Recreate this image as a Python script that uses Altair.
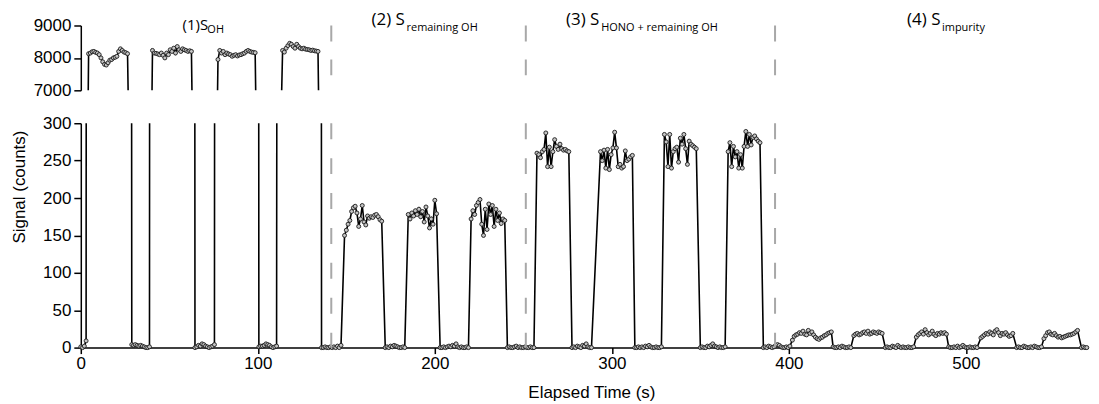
import altair as alt
import pandas as pd

# ---------------- data ----------------
SAMPLE_STEP = 1.0  # seconds between successive samples inside a segment

SEGMENT_STARTS = [
    0.0, 4.4, 28.8, 40.5, 64.5, 77.5, 100.6, 114.0, 136.0,
    149.0, 172.0, 185.0, 203.0, 220.5, 241.0,
    257.7, 277.5, 293.6, 313.0, 329.7, 350.0, 365.7, 385.6,
    402.0, 425.0, 436.7, 454.5, 472.0, 490.3, 508.5, 528.7, 544.1, 565.3,
]

SEGMENT_VALUES = [
    [1, 0, 2, 9],
    [8130, 8150, 8190, 8200, 8170, 8150, 8100, 8000, 7880, 7800, 7780, 7850,
     7930, 7950, 8000, 8020, 8050, 8200, 8280, 8230, 8180, 8160, 8130],
    [4, 3, 4, 3, 2, 3, 2, 1, 0, 0, 1],
    [8230, 8150, 8140, 8120, 8100, 8150, 8080, 8000, 8150, 8100, 8250, 8200,
     8300, 8150, 8350, 8250, 8200, 8280, 8250, 8230, 8200, 8220, 8200],
    [0, 1, 3, 2, 5, 4, 2, 1, 0, 1, 2, 4],
    [7950, 8230, 8150, 8200, 8100, 8150, 8120, 8100, 8050, 8080, 8100, 8060,
     8090, 8100, 8130, 8150, 8200, 8230, 8200, 8180, 8170, 8160],
    [1, 2, 2, 3, 5, 4, 3, 1, 0, 1, 2],
    [8230, 8180, 8300, 8380, 8450, 8420, 8350, 8300, 8420, 8350, 8300, 8280,
     8300, 8270, 8260, 8250, 8230, 8240, 8220, 8210, 8200],
    [0, 0, 1, 0, 0, 1, 0, 1, 0, 2, 0, 3],
    [150, 157, 165, 170, 182, 187, 189, 180, 162, 172, 190, 168, 164, 176,
     173, 175, 174, 177, 178, 175, 171, 169],
    [0, 1, 0, 2, 1, 3, 2, 1, 0, 0, 1, 0],
    [178, 172, 180, 176, 183, 178, 185, 175, 182, 168, 188, 176, 160, 172,
     165, 197, 179],
    [0, 0, 1, 0, 1, 2, 1, 3, 2, 5, 1, 0, 1, 0, 0, 1, 0],
    [172, 183, 178, 190, 194, 198, 165, 150, 185, 158, 192, 178, 190, 162,
     185, 170, 180, 166, 172, 170],
    [0, 1, 0, 0, 1, 2, 0, 1, 0, 0, 1, 0, 0, 1, 0, 0],
    [260, 258, 254, 262, 265, 287, 242, 268, 242, 262, 278, 269, 265, 272,
     266, 264, 265, 263, 262],
    [0, 1, 0, 2, 1, 0, 3, 2, 5, 1, 0, 0],
    [262, 250, 264, 240, 265, 238, 258, 267, 288, 267, 242, 245, 240, 242,
     263, 250, 252, 255, 257],
    [0, 0, 1, 0, 1, 0, 2, 1, 3, 1, 0, 0, 1, 0, 0, 1],
    [285, 275, 242, 285, 240, 262, 266, 268, 248, 280, 272, 285, 266, 245,
     276, 272, 270, 268, 266],
    [0, 1, 0, 0, 2, 1, 3, 5, 2, 1, 0, 1, 0, 0, 1],
    [262, 274, 242, 269, 255, 262, 240, 258, 240, 269, 289, 269, 285, 271,
     281, 283, 279, 276, 274],
    [0, 1, 0, 2, 1, 0, 1, 3, 4, 3, 1, 0, 0, 1, 0, 2],
    [10, 15, 17, 18, 20, 19, 22, 18, 17, 23, 19, 21, 17, 14, 12, 11, 13, 14,
     16, 17, 19, 20, 21],
    [1, 0, 0, 1, 0, 2, 1, 0, 0, 1, 0],
    [16, 18, 19, 17, 18, 20, 21, 19, 22, 18, 19, 21, 20, 19, 21, 20, 19],
    [0, 1, 0, 0, 2, 1, 0, 3, 1, 0, 1, 0, 0, 1, 0, 0, 1],
    [14, 17, 19, 21, 18, 24, 20, 17, 19, 22, 18, 16, 19, 18, 20, 19, 20, 18],
    [1, 0, 0, 1, 0, 2, 0, 1, 3, 1, 0, 0, 1, 0, 0, 1, 0],
    [13, 15, 17, 19, 18, 21, 19, 17, 22, 24, 20, 16, 19, 18, 20, 17, 15, 16,
     19],
    [0, 1, 0, 0, 2, 1, 0, 0, 1, 0, 2, 1, 0, 0, 1],
    [12, 16, 20, 21, 18, 17, 19, 16, 14, 15, 13, 14, 15, 16, 17, 17, 18, 19,
     21, 23],
    [0, 1, 0, 0, 1, 0, 2, 1, 0],
]

DIVIDERS = [141.5, 251.4, 392.2]

# panel 1 label (drawn a little smaller and lower in the reference)
LABEL1_MAIN = ["(1)S"]
LABEL1_MAIN_T = [57.5]
LABEL1_MAIN_Y = [8846]
# panels 2-4 labels
LABEL_MAIN = ["(2) S", "(3) S", "(4) S"]
LABEL_MAIN_T = [164.2, 274.1, 466.8]
LABEL_MAIN_Y = [9000, 9000, 9000]
# subscripts of all four labels
LABEL_SUB = ["OH", "remaining OH", "HONO + remaining OH", "impurity"]
LABEL_SUB_T = [71.5, 184.0, 294.0, 486.5]
LABEL_SUB_Y = [8754, 8815, 8815, 8815]

X_TICKS = [0, 100, 200, 300, 400, 500]
TOP_TICKS = [7000, 8000, 9000]
BOTTOM_TICKS = [0, 50, 100, 150, 200, 250, 300]

# ---------------- tables ----------------
rows = []
for start, vals in zip(SEGMENT_STARTS, SEGMENT_VALUES):
    for i, v in enumerate(vals):
        rows.append({"t": round(start + i * SAMPLE_STEP, 2), "v": v})
df = pd.DataFrame(rows)

div_df = pd.DataFrame({"t": DIVIDERS})
lbl1_df = pd.DataFrame({"main": LABEL1_MAIN, "tm": LABEL1_MAIN_T,
                        "ym": LABEL1_MAIN_Y})
lbl_df = pd.DataFrame({"main": LABEL_MAIN, "tm": LABEL_MAIN_T,
                       "ym": LABEL_MAIN_Y})
sub_df = pd.DataFrame({"sub": LABEL_SUB, "ts": LABEL_SUB_T, "ys": LABEL_SUB_Y})

# ---------------- styling ----------------
W, HT, HB = 1010, 65, 225
XMAX = 569
AX_FONT = "Liberation Sans"
LBL_FONT = "Open Sans"

xs = alt.Scale(domain=[0, XMAX], nice=False, zero=False)
ys_top = alt.Scale(domain=[7000, 9000], nice=False, zero=False)
ys_bot = alt.Scale(domain=[0, 300], nice=False, zero=False)

axis_common = dict(
    labelFont=AX_FONT, labelFontSize=17, labelColor="black",
    domainColor="black", tickColor="black", domainWidth=1.5, tickWidth=1.5,
    grid=False, labelFlush=False, format="d",
)

top_y_axis = alt.Axis(values=TOP_TICKS, title=None, tickSize=7,
                      labelPadding=3, **axis_common)
bot_y_axis = alt.Axis(values=BOTTOM_TICKS, title="Signal (counts)", tickSize=7,
                      labelPadding=3, titleFont=AX_FONT, titleFontSize=17,
                      titleFontWeight="normal", titleColor="black",
                      titleY=63.5, titlePadding=14, **axis_common)
bot_x_axis = alt.Axis(values=X_TICKS, title="Elapsed Time (s)", tickSize=6,
                      labelPadding=2, titleFont=AX_FONT, titleFontSize=17,
                      titleFontWeight="normal", titleColor="black",
                      titleX=512, titlePadding=13, **axis_common)

LINE_STYLE = dict(color="black", strokeWidth=1.6, clip=True)
PT_STYLE = dict(size=16, fill="#c4c4c4", stroke="#1a1a1a", strokeWidth=0.9,
                opacity=1)
DIV_STYLE = dict(color="#a8a8a8", strokeWidth=2)

base = alt.Chart(df)


# ---------------- top panel (7000-9000) ----------------
def xt(field):
    return alt.X(field, type="quantitative", scale=xs, axis=None)


def yt(field):
    return alt.Y(field, type="quantitative", scale=ys_top, axis=top_y_axis)


top_line = base.mark_line(**LINE_STYLE).encode(x=xt("t"), y=yt("v"))
top_pts = base.transform_filter(
    f"datum.v >= 7000 && datum.t <= {XMAX}").mark_circle(**PT_STYLE).encode(
    x=xt("t"), y=yt("v"))
top_div = alt.Chart(div_df).mark_rule(strokeDash=[16, 18], **DIV_STYLE).encode(
    x=xt("t"),
    y=alt.YDatum(9000, type="quantitative", scale=ys_top, axis=top_y_axis),
    y2=alt.Y2Datum(7000))
main1_txt = alt.Chart(lbl1_df).mark_text(
    align="left", baseline="alphabetic", font=LBL_FONT, fontSize=15,
    color="black").encode(x=xt("tm"), y=yt("ym"), text="main:N")
main_txt = alt.Chart(lbl_df).mark_text(
    align="left", baseline="alphabetic", font=LBL_FONT, fontSize=17,
    color="black").encode(x=xt("tm"), y=yt("ym"), text="main:N")
sub_txt = alt.Chart(sub_df).mark_text(
    align="left", baseline="alphabetic", font=LBL_FONT, fontSize=11,
    color="black").encode(x=xt("ts"), y=yt("ys"), text="sub:N")

top = alt.layer(top_line, top_pts, top_div, main1_txt, main_txt,
                sub_txt).properties(width=W, height=HT)


# ---------------- bottom panel (0-300) ----------------
def xb(field):
    return alt.X(field, type="quantitative", scale=xs, axis=bot_x_axis)


def yb(field):
    return alt.Y(field, type="quantitative", scale=ys_bot, axis=bot_y_axis)


bot_line = base.mark_line(**LINE_STYLE).encode(x=xb("t"), y=yb("v"))
bot_pts = base.transform_filter(
    f"datum.v <= 300 && datum.t <= {XMAX}").mark_circle(**PT_STYLE).encode(
    x=xb("t"), y=yb("v"))
bot_div = alt.Chart(div_df).mark_rule(strokeDash=[16, 19], **DIV_STYLE).encode(
    x=xb("t"),
    y=alt.YDatum(300, type="quantitative", scale=ys_bot, axis=bot_y_axis),
    y2=alt.Y2Datum(0))

bottom = alt.layer(bot_line, bot_pts, bot_div).properties(width=W, height=HB)

chart = alt.vconcat(top, bottom, spacing=33, bounds="flush").resolve_scale(
    y="independent").properties(
    padding={"left": 2, "top": 3, "right": 0, "bottom": 0},
    background="white",
).configure_view(stroke=None)

chart.save("out.html", embed_options={"renderer": "svg", "actions": False})
